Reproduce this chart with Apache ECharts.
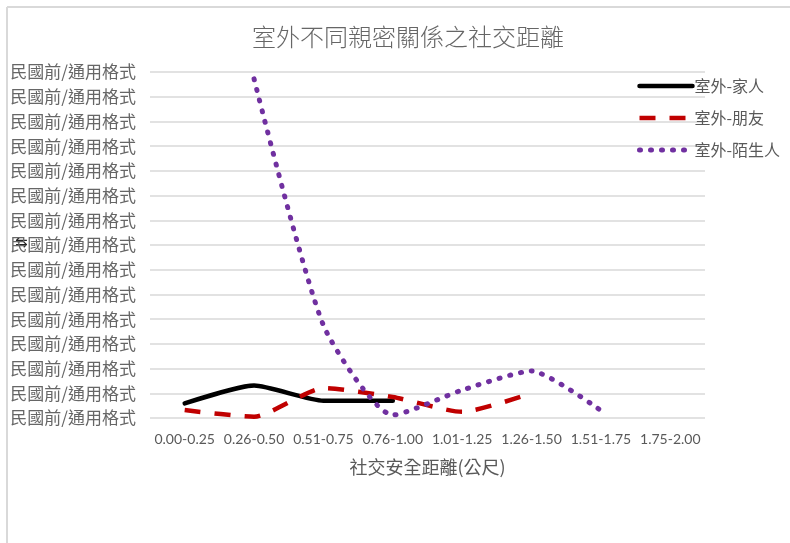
<!DOCTYPE html>
<html>
<head>
<meta charset="utf-8">
<script src="https://cdn.jsdelivr.net/npm/echarts@6/dist/echarts.min.js"></script>
<style>
  html, body { margin: 0; padding: 0; background: #ffffff; }
  #chart { width: 790px; height: 543px; }
</style>
</head>
<body>
<div id="chart"></div>
<script>
// Distance bands (metres) on the category axis
const categories = ['0.00-0.25', '0.26-0.50', '0.51-0.75', '0.76-1.00', '1.01-1.25', '1.26-1.50', '1.51-1.75', '1.75-2.00'];

// Outdoor social distance per relationship
const familyValues   = [0.59, 1.31, 0.70, 0.70, null, null, null, null];
const friendValues   = [0.32, 0.05, 1.21, 0.85, 0.25, 1.00, null, null];
const strangerValues = [null, 13.72, 3.75, 0.12, 1.13, 1.90, 0.30, null];

// Value-axis tick labels (one per gridline, bottom to top)
const yTickLabels = [
  '民國前/通用格式', '民國前/通用格式', '民國前/通用格式', '民國前/通用格式', '民國前/通用格式',
  '民國前/通用格式', '民國前/通用格式', '民國前/通用格式', '民國前/通用格式', '民國前/通用格式',
  '民國前/通用格式', '民國前/通用格式', '民國前/通用格式', '民國前/通用格式', '民國前/通用格式'
];

const seriesNames = ['室外-家人', '室外-朋友', '室外-陌生人'];

const cjk = '"Noto Sans CJK TC", "Noto Sans CJK SC", sans-serif';
const textGrey = '#595959';
const gridGrey = '#d9d9d9';

const lineWidths = [4.5, 4.5, 5];

const chart = echarts.init(document.getElementById('chart'), null, { renderer: 'canvas' });

chart.setOption({
  animation: false,
  backgroundColor: '#ffffff',
  title: {
    text: '室外不同親密關係之社交距離',
    left: 403,
    top: 20,
    textAlign: 'center',
    textStyle: { fontFamily: cjk, fontSize: 24, fontWeight: 300, color: '#666666' }
  },
  legend: {
    orient: 'vertical',
    left: 632,
    top: 73,
    itemWidth: 53,
    itemHeight: 14,
    itemGap: 16,
    itemStyle: { color: 'rgba(0,0,0,0)', borderWidth: 0 },
    textStyle: { fontFamily: cjk, fontSize: 16, color: textGrey, padding: [0, 0, 0, -3] },
    data: seriesNames.map(function (n, i) {
      return { name: n, lineStyle: { width: lineWidths[i] } };
    })
  },
  grid: { left: 150, right: 85, top: 72, bottom: 125 },
  xAxis: {
    type: 'category',
    data: categories,
    boundaryGap: true,
    axisLine: { show: false },
    axisTick: { show: false },
    axisLabel: { margin: 14, fontFamily: 'Lato, "Liberation Sans", sans-serif', fontSize: 14, color: textGrey, interval: 0 },
    name: '社交安全距離(公尺)',
    nameLocation: 'middle',
    nameGap: 40,
    nameTextStyle: { fontFamily: cjk, fontSize: 18, color: textGrey }
  },
  yAxis: {
    type: 'value',
    min: 0,
    max: 14,
    interval: 1,
    axisLine: { show: false },
    axisTick: { show: false },
    splitLine: { lineStyle: { color: gridGrey, width: 1.5 } },
    axisLabel: {
      margin: 14,
      fontFamily: cjk,
      fontSize: 17,
      color: '#666666',
      formatter: function (v) { return yTickLabels[Math.round(v)]; }
    }
  },
  series: [
    {
      name: seriesNames[0],
      type: 'line',
      data: familyValues,
      smooth: 0.2,
      symbol: 'none',
      lineStyle: { color: '#000000', width: lineWidths[0], cap: 'round', join: 'round' },
      itemStyle: { color: '#000000' }
    },
    {
      name: seriesNames[1],
      type: 'line',
      data: friendValues,
      smooth: 0.2,
      symbol: 'none',
      lineStyle: { color: '#c00000', width: lineWidths[1], type: [16, 14], cap: 'butt', join: 'round' },
      itemStyle: { color: '#c00000' }
    },
    {
      name: seriesNames[2],
      type: 'line',
      data: strangerValues,
      smooth: 0.2,
      symbol: 'none',
      lineStyle: { color: '#7030a0', width: lineWidths[2], type: [1, 10], cap: 'round', join: 'round' },
      itemStyle: { color: '#7030a0' }
    }
  ],
  graphic: [
    // chart-area frame (top and left edges)
    { type: 'line', silent: true, shape: { x1: 7, y1: 7, x2: 790, y2: 7 }, style: { stroke: gridGrey, lineWidth: 2 } },
    { type: 'line', silent: true, shape: { x1: 7, y1: 7, x2: 7, y2: 543 }, style: { stroke: gridGrey, lineWidth: 2 } },
    // small selection-handle glyph over the axis labels
    { type: 'text', silent: true, left: 15, top: 236, style: { text: '⇆', fontSize: 15, fontFamily: '"DejaVu Sans"', fill: '#222222' } }
  ]
});
</script>
</body>
</html>
